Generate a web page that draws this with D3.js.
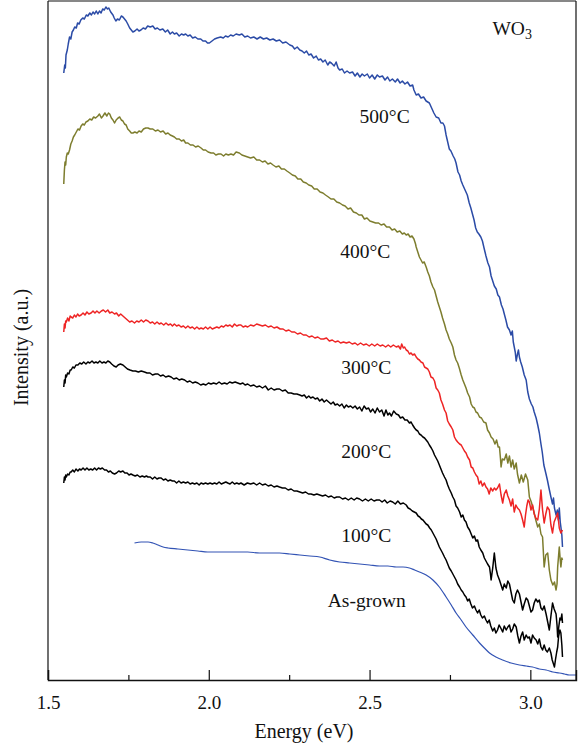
<!DOCTYPE html>
<html>
<head>
<meta charset="utf-8">
<script src="https://cdn.jsdelivr.net/npm/d3@7"></script>
<style>
  html, body { margin: 0; padding: 0; background: #fff; }
  svg { display: block; }
  text { font-family: "Liberation Serif", "DejaVu Serif", serif; fill: #111; }
</style>
</head>
<body>
<svg id="chart" width="580" height="748"></svg>
<script>
// Emission spectra of WO3 films, [energy (eV), intensity (a.u.)]
const s500 = [[1.549,607],[1.552,615],[1.554,612],[1.556,625],[1.560,630],[1.563,636],[1.567,643],[1.571,641],[1.575,648],[1.579,650],[1.583,653],[1.588,652],[1.592,657],[1.597,656],[1.602,660],[1.608,662],[1.613,661],[1.619,665],[1.624,664],[1.630,667],[1.635,665],[1.640,668],[1.645,666],[1.650,669],[1.655,666],[1.660,669],[1.665,667],[1.670,671],[1.675,670],[1.680,673],[1.685,671],[1.689,672],[1.695,668],[1.702,665],[1.706,662],[1.711,659],[1.716,661],[1.722,660],[1.728,664],[1.733,663],[1.738,661],[1.743,659],[1.748,656],[1.754,652],[1.759,650],[1.764,648],[1.770,649],[1.777,651],[1.783,649],[1.789,650],[1.796,652],[1.803,651],[1.810,654],[1.818,653],[1.826,654],[1.833,651],[1.840,652],[1.848,650],[1.857,651],[1.865,648],[1.872,650],[1.880,646],[1.887,648],[1.893,646],[1.900,647],[1.908,644],[1.915,646],[1.922,645],[1.928,646],[1.935,644],[1.942,645],[1.950,642],[1.958,643],[1.966,641],[1.975,641],[1.982,639],[1.990,639],[1.996,637],[2.002,637],[2.010,639],[2.018,641],[2.026,642],[2.037,643],[2.045,642],[2.052,644],[2.060,643],[2.068,645],[2.076,644],[2.085,646],[2.095,645],[2.103,646],[2.112,643],[2.121,644],[2.130,642],[2.140,643],[2.150,641],[2.160,643],[2.170,641],[2.180,642],[2.190,640],[2.200,641],[2.210,639],[2.220,640],[2.230,637],[2.240,638],[2.252,635],[2.260,634],[2.267,631],[2.275,633],[2.283,630],[2.290,629],[2.297,627],[2.304,629],[2.311,625],[2.318,626],[2.326,622],[2.334,624],[2.341,620],[2.348,621],[2.355,618],[2.362,620],[2.370,615],[2.376,618],[2.381,617],[2.390,614],[2.396,618],[2.402,612],[2.407,610],[2.415,611],[2.422,607],[2.430,609],[2.438,607],[2.447,608],[2.455,604],[2.462,607],[2.470,603],[2.477,606],[2.484,604],[2.493,606],[2.500,602],[2.508,605],[2.516,601],[2.524,605],[2.531,603],[2.540,604],[2.548,600],[2.556,603],[2.563,599],[2.571,601],[2.580,598],[2.587,601],[2.595,597],[2.602,599],[2.610,596],[2.618,598],[2.626,594],[2.634,595],[2.638,590],[2.645,585],[2.652,586],[2.660,582],[2.668,583],[2.676,579],[2.686,577],[2.693,572],[2.700,567],[2.707,563],[2.715,562],[2.722,557],[2.728,557],[2.733,554],[2.738,545],[2.743,538],[2.748,531],[2.753,529],[2.760,524],[2.765,521],[2.769,517],[2.775,508],[2.780,505],[2.785,499],[2.790,495],[2.797,490],[2.804,485],[2.810,477],[2.815,472],[2.820,466],[2.825,460],[2.830,452],[2.835,448],[2.840,446],[2.846,443],[2.851,439],[2.856,432],[2.862,424],[2.868,417],[2.873,413],[2.878,404],[2.882,400],[2.888,394],[2.894,391],[2.899,385],[2.904,383],[2.910,375],[2.915,371],[2.919,366],[2.924,360],[2.929,353],[2.935,350],[2.940,345],[2.944,349],[2.947,338],[2.950,333],[2.953,328],[2.956,319],[2.960,326],[2.963,330],[2.966,323],[2.970,318],[2.975,313],[2.981,305],[2.987,300],[2.992,288],[2.997,281],[3.003,276],[3.008,273],[3.012,268],[3.018,262],[3.023,255],[3.028,247],[3.033,236],[3.037,228],[3.042,215],[3.048,207],[3.053,200],[3.058,192],[3.064,183],[3.069,176],[3.072,182],[3.075,172],[3.080,165],[3.084,170],[3.087,160],[3.090,172],[3.093,158],[3.095,153],[3.098,145],[3.100,133]];

const s400 = [[1.549,496],[1.551,510],[1.553,518],[1.555,515],[1.557,523],[1.560,527],[1.563,526],[1.567,530],[1.571,536],[1.575,539],[1.579,543],[1.583,545],[1.588,548],[1.593,551],[1.598,550],[1.603,554],[1.608,556],[1.613,555],[1.618,558],[1.624,559],[1.630,561],[1.636,560],[1.642,563],[1.648,562],[1.655,564],[1.660,566],[1.666,562],[1.671,564],[1.677,567],[1.683,564],[1.688,567],[1.692,566],[1.697,562],[1.702,560],[1.707,557],[1.712,560],[1.718,562],[1.723,563],[1.728,560],[1.733,559],[1.738,556],[1.743,555],[1.748,551],[1.754,549],[1.759,547],[1.764,547],[1.770,548],[1.777,547],[1.783,549],[1.790,548],[1.797,551],[1.804,552],[1.811,552],[1.818,551],[1.826,551],[1.834,549],[1.842,550],[1.850,548],[1.858,549],[1.866,546],[1.873,547],[1.880,545],[1.887,544],[1.893,543],[1.900,541],[1.908,541],[1.915,539],[1.922,540],[1.928,537],[1.935,537],[1.943,535],[1.951,535],[1.959,533],[1.967,534],[1.976,532],[1.983,530],[1.990,530],[1.998,528],[2.007,527],[2.015,527],[2.022,525],[2.030,526],[2.038,526],[2.046,524],[2.053,526],[2.061,525],[2.069,526],[2.077,525],[2.085,528],[2.095,527],[2.103,525],[2.112,524],[2.121,523],[2.130,522],[2.140,523],[2.149,520],[2.158,520],[2.167,518],[2.175,519],[2.184,516],[2.192,517],[2.200,515],[2.209,513],[2.218,514],[2.226,511],[2.235,511],[2.243,509],[2.252,507],[2.260,505],[2.269,504],[2.277,501],[2.286,501],[2.294,498],[2.303,497],[2.311,495],[2.320,494],[2.328,491],[2.337,491],[2.346,488],[2.355,487],[2.363,485],[2.372,483],[2.380,481],[2.389,481],[2.398,478],[2.407,477],[2.416,475],[2.424,474],[2.433,471],[2.441,472],[2.450,468],[2.459,467],[2.467,465],[2.476,465],[2.484,461],[2.492,462],[2.501,459],[2.510,458],[2.519,457],[2.528,457],[2.536,455],[2.545,456],[2.553,453],[2.562,453],[2.570,450],[2.578,451],[2.586,448],[2.594,449],[2.602,446],[2.608,447],[2.614,445],[2.620,446],[2.626,443],[2.632,444],[2.638,441],[2.643,436],[2.645,433],[2.650,428],[2.655,423],[2.660,420],[2.665,417],[2.670,418],[2.676,413],[2.681,408],[2.686,404],[2.691,398],[2.697,393],[2.702,390],[2.707,384],[2.712,378],[2.717,373],[2.722,368],[2.727,362],[2.733,356],[2.738,350],[2.743,346],[2.748,341],[2.754,337],[2.759,333],[2.764,325],[2.769,320],[2.774,317],[2.779,312],[2.785,305],[2.790,300],[2.795,296],[2.800,292],[2.805,287],[2.811,283],[2.816,276],[2.821,273],[2.826,272],[2.831,268],[2.836,267],[2.842,263],[2.848,262],[2.855,258],[2.862,257],[2.867,250],[2.873,247],[2.878,243],[2.884,241],[2.890,236],[2.895,240],[2.900,233],[2.904,233],[2.907,222],[2.909,213],[2.913,221],[2.919,220],[2.925,226],[2.930,217],[2.935,224],[2.940,213],[2.945,220],[2.950,211],[2.956,217],[2.960,206],[2.966,197],[2.972,205],[2.978,198],[2.985,206],[2.992,200],[2.997,183],[3.003,178],[3.008,172],[3.012,167],[3.017,160],[3.023,153],[3.028,156],[3.033,146],[3.038,143],[3.043,113],[3.048,125],[3.054,127],[3.059,110],[3.064,100],[3.070,95],[3.075,98],[3.080,90],[3.083,96],[3.085,113],[3.088,125],[3.090,133],[3.093,120],[3.095,113],[3.098,122],[3.100,120]];

const s300 = [[1.549,348],[1.551,356],[1.553,352],[1.555,359],[1.557,358],[1.561,362],[1.565,359],[1.569,364],[1.572,363],[1.577,362],[1.582,365],[1.587,363],[1.592,366],[1.597,364],[1.603,365],[1.609,367],[1.615,365],[1.621,368],[1.627,366],[1.634,367],[1.640,369],[1.646,367],[1.652,369],[1.659,367],[1.666,369],[1.672,370],[1.679,368],[1.686,370],[1.692,367],[1.699,368],[1.707,366],[1.713,367],[1.720,364],[1.726,366],[1.733,364],[1.740,362],[1.747,360],[1.754,358],[1.761,359],[1.769,357],[1.776,359],[1.783,358],[1.790,360],[1.797,358],[1.804,360],[1.811,359],[1.818,357],[1.825,358],[1.832,356],[1.839,358],[1.846,356],[1.852,357],[1.860,355],[1.867,357],[1.874,355],[1.881,356],[1.887,354],[1.893,356],[1.900,354],[1.907,355],[1.914,353],[1.921,354],[1.928,352],[1.935,354],[1.942,352],[1.949,353],[1.956,351],[1.963,353],[1.970,351],[1.976,352],[1.983,351],[1.990,353],[1.997,351],[2.004,353],[2.011,351],[2.018,352],[2.025,353],[2.032,352],[2.039,354],[2.046,353],[2.053,355],[2.059,354],[2.066,355],[2.073,353],[2.080,356],[2.087,354],[2.094,355],[2.100,355],[2.107,353],[2.114,354],[2.121,353],[2.130,355],[2.140,354],[2.149,356],[2.158,355],[2.167,354],[2.176,355],[2.185,353],[2.194,354],[2.203,352],[2.212,353],[2.222,351],[2.231,351],[2.240,349],[2.249,350],[2.258,348],[2.267,348],[2.276,346],[2.285,347],[2.294,345],[2.303,345],[2.312,343],[2.321,344],[2.330,342],[2.339,343],[2.348,341],[2.357,341],[2.366,342],[2.375,339],[2.384,340],[2.393,338],[2.402,339],[2.410,337],[2.419,338],[2.428,337],[2.437,338],[2.446,336],[2.455,337],[2.463,335],[2.472,337],[2.481,335],[2.490,336],[2.499,334],[2.507,336],[2.516,334],[2.524,336],[2.533,334],[2.541,335],[2.550,333],[2.558,335],[2.566,333],[2.574,335],[2.583,333],[2.590,334],[2.596,331],[2.600,336],[2.605,332],[2.609,333],[2.614,330],[2.619,329],[2.624,326],[2.629,327],[2.634,325],[2.640,326],[2.645,323],[2.650,321],[2.655,320],[2.660,318],[2.666,317],[2.671,313],[2.676,312],[2.681,311],[2.686,308],[2.691,303],[2.697,302],[2.702,299],[2.707,292],[2.712,290],[2.717,287],[2.722,280],[2.727,276],[2.733,270],[2.738,267],[2.743,259],[2.748,256],[2.754,253],[2.759,250],[2.764,243],[2.769,240],[2.774,238],[2.780,236],[2.785,235],[2.790,232],[2.795,229],[2.800,227],[2.805,223],[2.811,220],[2.816,213],[2.821,212],[2.826,208],[2.831,205],[2.836,203],[2.841,196],[2.846,199],[2.851,194],[2.857,197],[2.862,193],[2.867,191],[2.872,186],[2.877,192],[2.883,189],[2.888,192],[2.893,190],[2.898,192],[2.904,196],[2.909,185],[2.914,177],[2.919,186],[2.925,190],[2.930,184],[2.935,180],[2.940,174],[2.945,181],[2.950,168],[2.955,175],[2.960,172],[2.966,170],[2.971,166],[2.976,160],[2.981,153],[2.985,165],[2.989,174],[2.993,180],[2.997,178],[3.002,170],[3.007,175],[3.012,166],[3.017,162],[3.023,160],[3.028,171],[3.033,190],[3.038,170],[3.043,157],[3.048,166],[3.053,173],[3.059,170],[3.064,155],[3.069,147],[3.074,158],[3.079,162],[3.085,167],[3.090,152],[3.095,147],[3.100,150]];

const s200 = [[1.549,293],[1.551,300],[1.553,297],[1.555,305],[1.557,303],[1.561,307],[1.565,306],[1.569,310],[1.572,310],[1.577,313],[1.582,312],[1.587,315],[1.593,315],[1.599,317],[1.605,316],[1.611,318],[1.618,316],[1.624,318],[1.630,317],[1.637,319],[1.643,317],[1.649,318],[1.655,317],[1.661,319],[1.668,317],[1.674,318],[1.680,317],[1.686,319],[1.692,318],[1.698,316],[1.705,314],[1.712,313],[1.718,315],[1.725,316],[1.733,315],[1.740,313],[1.747,311],[1.755,310],[1.764,309],[1.772,309],[1.781,308],[1.790,309],[1.800,308],[1.808,307],[1.817,307],[1.825,305],[1.834,306],[1.842,306],[1.850,304],[1.858,305],[1.866,303],[1.875,304],[1.883,303],[1.891,301],[1.900,302],[1.908,300],[1.916,301],[1.925,300],[1.933,298],[1.941,299],[1.950,297],[1.958,298],[1.966,297],[1.975,295],[1.983,296],[1.991,295],[1.999,297],[2.007,296],[2.015,297],[2.024,296],[2.032,298],[2.040,296],[2.049,297],[2.057,296],[2.065,298],[2.073,297],[2.082,298],[2.090,297],[2.098,296],[2.106,297],[2.113,295],[2.121,296],[2.130,294],[2.140,295],[2.149,293],[2.158,294],[2.167,292],[2.176,294],[2.185,290],[2.194,292],[2.203,290],[2.212,291],[2.220,291],[2.229,289],[2.238,290],[2.247,287],[2.256,287],[2.265,286],[2.274,286],[2.283,285],[2.290,284],[2.297,285],[2.304,282],[2.311,284],[2.317,282],[2.324,283],[2.331,281],[2.338,282],[2.345,279],[2.352,281],[2.359,278],[2.366,280],[2.373,278],[2.380,276],[2.387,278],[2.393,275],[2.400,276],[2.407,274],[2.414,276],[2.421,272],[2.428,275],[2.434,273],[2.441,274],[2.448,272],[2.455,274],[2.462,271],[2.469,273],[2.476,269],[2.483,274],[2.490,271],[2.497,272],[2.503,268],[2.510,271],[2.517,267],[2.524,272],[2.531,268],[2.538,270],[2.545,264],[2.551,270],[2.557,265],[2.562,267],[2.568,264],[2.575,269],[2.583,266],[2.590,265],[2.596,262],[2.603,263],[2.610,260],[2.617,260],[2.624,257],[2.629,258],[2.634,255],[2.640,252],[2.645,250],[2.650,249],[2.655,246],[2.660,245],[2.666,243],[2.671,242],[2.676,240],[2.681,238],[2.686,235],[2.692,232],[2.697,229],[2.702,225],[2.707,222],[2.712,219],[2.717,215],[2.722,211],[2.727,207],[2.733,203],[2.738,200],[2.743,195],[2.748,191],[2.754,187],[2.759,183],[2.764,180],[2.769,174],[2.774,172],[2.780,168],[2.785,163],[2.790,165],[2.795,160],[2.800,158],[2.805,153],[2.811,150],[2.816,146],[2.821,142],[2.826,144],[2.831,139],[2.836,140],[2.841,133],[2.846,130],[2.852,127],[2.857,122],[2.862,119],[2.867,116],[2.873,113],[2.876,106],[2.878,100],[2.883,112],[2.888,127],[2.893,112],[2.898,105],[2.904,100],[2.909,95],[2.914,90],[2.919,96],[2.925,92],[2.930,99],[2.935,96],[2.940,88],[2.945,80],[2.950,77],[2.955,86],[2.960,90],[2.966,86],[2.971,78],[2.976,70],[2.981,76],[2.987,82],[2.992,80],[2.997,74],[3.002,68],[3.007,70],[3.012,77],[3.017,81],[3.023,78],[3.028,80],[3.033,72],[3.038,70],[3.043,74],[3.049,66],[3.054,58],[3.059,50],[3.064,64],[3.069,77],[3.074,71],[3.080,66],[3.083,55],[3.085,43],[3.088,52],[3.092,62],[3.095,60],[3.098,66],[3.100,57]];

const s100 = [[1.549,197],[1.551,203],[1.553,200],[1.555,205],[1.557,203],[1.561,206],[1.565,205],[1.569,208],[1.572,208],[1.577,210],[1.582,208],[1.587,211],[1.593,209],[1.598,211],[1.603,210],[1.609,212],[1.615,210],[1.621,212],[1.627,210],[1.633,211],[1.639,210],[1.645,212],[1.651,210],[1.657,212],[1.663,211],[1.669,212],[1.676,210],[1.682,210],[1.688,208],[1.694,209],[1.700,207],[1.707,206],[1.713,207],[1.720,209],[1.726,208],[1.733,209],[1.739,207],[1.746,207],[1.752,205],[1.758,206],[1.764,205],[1.771,204],[1.778,205],[1.786,203],[1.793,204],[1.800,203],[1.806,204],[1.811,203],[1.818,203],[1.825,201],[1.832,203],[1.839,201],[1.845,202],[1.852,202],[1.859,200],[1.866,201],[1.873,199],[1.880,200],[1.887,199],[1.893,199],[1.900,197],[1.907,199],[1.914,197],[1.921,198],[1.928,197],[1.935,198],[1.942,196],[1.949,197],[1.956,196],[1.963,197],[1.970,195],[1.976,197],[1.983,196],[1.990,197],[1.997,196],[2.004,197],[2.011,196],[2.018,197],[2.025,196],[2.032,198],[2.039,196],[2.046,197],[2.053,198],[2.059,197],[2.066,196],[2.073,198],[2.080,196],[2.087,197],[2.094,196],[2.100,197],[2.110,195],[2.120,197],[2.130,196],[2.140,197],[2.149,195],[2.158,197],[2.167,195],[2.176,196],[2.185,194],[2.194,195],[2.203,193],[2.212,194],[2.220,193],[2.229,192],[2.238,192],[2.247,190],[2.256,191],[2.265,189],[2.274,189],[2.283,188],[2.292,187],[2.301,188],[2.310,186],[2.318,186],[2.327,185],[2.336,186],[2.345,185],[2.354,184],[2.363,185],[2.372,183],[2.381,184],[2.390,182],[2.398,183],[2.407,183],[2.416,181],[2.425,182],[2.434,180],[2.443,182],[2.452,180],[2.460,182],[2.469,181],[2.478,179],[2.487,181],[2.496,179],[2.505,181],[2.514,179],[2.522,180],[2.531,180],[2.539,178],[2.547,180],[2.555,177],[2.564,179],[2.572,178],[2.580,176],[2.588,179],[2.596,176],[2.605,177],[2.614,175],[2.620,172],[2.626,171],[2.633,169],[2.639,168],[2.645,167],[2.651,164],[2.656,163],[2.661,161],[2.666,160],[2.671,158],[2.676,156],[2.681,155],[2.687,152],[2.692,150],[2.697,147],[2.702,144],[2.707,141],[2.712,137],[2.717,133],[2.722,130],[2.727,127],[2.733,123],[2.738,120],[2.743,116],[2.748,112],[2.754,109],[2.759,106],[2.764,103],[2.769,100],[2.774,96],[2.780,93],[2.785,90],[2.790,88],[2.795,85],[2.800,83],[2.805,79],[2.810,81],[2.815,76],[2.820,72],[2.826,74],[2.831,70],[2.836,67],[2.841,70],[2.846,65],[2.851,62],[2.857,64],[2.862,60],[2.867,57],[2.872,60],[2.877,54],[2.883,49],[2.888,52],[2.893,47],[2.898,50],[2.903,55],[2.908,52],[2.914,48],[2.919,54],[2.925,50],[2.930,53],[2.935,55],[2.940,48],[2.945,51],[2.950,56],[2.956,53],[2.961,44],[2.966,37],[2.971,44],[2.976,48],[2.981,40],[2.987,45],[2.992,42],[2.997,43],[3.002,37],[3.007,45],[3.012,42],[3.018,40],[3.023,36],[3.028,41],[3.033,33],[3.038,30],[3.043,35],[3.048,30],[3.053,28],[3.059,32],[3.064,27],[3.068,20],[3.072,16],[3.075,13],[3.078,20],[3.082,28],[3.085,33],[3.088,44],[3.092,50],[3.095,47],[3.098,35],[3.100,23]];

const sGrown = [[1.769,137],[1.790,138],[1.811,138],[1.826,137],[1.842,135],[1.858,133],[1.873,132],[1.904,131],[1.935,130],[1.966,129],[1.997,128],[2.028,128],[2.059,128],[2.090,128],[2.121,128],[2.158,127],[2.190,127],[2.220,127],[2.252,126],[2.283,125],[2.314,124],[2.345,123],[2.376,120],[2.407,118],[2.438,117],[2.469,116],[2.500,115],[2.531,114],[2.557,114],[2.583,113],[2.604,113],[2.624,112],[2.640,110],[2.655,108],[2.676,105],[2.697,100],[2.717,93],[2.738,83],[2.754,75],[2.769,67],[2.785,60],[2.800,53],[2.821,45],[2.842,37],[2.857,32],[2.873,27],[2.893,23],[2.914,20],[2.940,17],[2.966,15],[2.987,14],[3.007,13],[3.028,11],[3.049,10],[3.070,8],[3.090,7],[3.106,6],[3.121,5],[3.142,5]];

const seriesNames = ["500°C", "400°C", "300°C", "200°C", "100°C", "As-grown"];
const seriesData = [s500, s400, s300, s200, s100, sGrown];
const seriesColors = ["#2b4ba6", "#7d7d2e", "#ee2424", "#000000", "#000000", "#3253b4"];

// label anchors in data space [energy, intensity]
const labelAnchors = [[2.469,557],[2.409,422],[2.412,306],[2.412,222],[2.412,138],[2.370,73]];

const xTicks = [1.5, 2.0, 2.5, 3.0];
const xMinorTicks = [1.75, 2.25, 2.75];
const xDomain = [1.5, 3.142];
const yDomain = [0, 679];

const svg = d3.select("#chart");
const m = { left: 48, right: 4, top: 1, bottom: 68 };
const W = 580, H = 748;

const x = d3.scaleLinear().domain(xDomain).range([m.left, W - m.right]);
const y = d3.scaleLinear().domain(yDomain).range([H - m.bottom, m.top]);

// curves
const line = d3.line().x(d => x(d[0])).y(d => y(d[1]));
const smooth = d3.line().x(d => x(d[0])).y(d => y(d[1])).curve(d3.curveMonotoneX);

seriesData.forEach((s, i) => {
  const grown = i === seriesData.length - 1;
  svg.append("path")
    .datum(s)
    .attr("fill", "none")
    .attr("stroke", seriesColors[i])
    .attr("stroke-width", grown ? 1.2 : 1.5)
    .attr("stroke-linejoin", "round")
    .attr("d", grown ? smooth : line);
});

// frame
const gFrame = svg.append("g").attr("fill", "none").attr("stroke", "#111").attr("stroke-width", 1.2);
gFrame.append("line").attr("x1", x(xDomain[0])).attr("x2", x(xDomain[0])).attr("y1", y(yDomain[1])).attr("y2", y(0));
gFrame.append("line").attr("x1", x(xDomain[0])).attr("x2", x(xDomain[1])).attr("y1", y(yDomain[1])).attr("y2", y(yDomain[1]));
gFrame.append("line").attr("x1", x(xDomain[1])).attr("x2", x(xDomain[1])).attr("y1", y(yDomain[1])).attr("y2", y(0));

// bottom axis with inward ticks
const xAxis = d3.axisBottom(x).tickValues(xTicks).tickSize(-10).tickPadding(16).tickFormat(d3.format(".1f"));
const gx = svg.append("g").attr("transform", `translate(0,${y(0)})`).call(xAxis);
gx.select(".domain").attr("stroke", "#111").attr("stroke-width", 1.4);
gx.selectAll(".tick line").attr("stroke", "#111").attr("stroke-width", 1.2);
gx.selectAll(".tick text").attr("font-size", 19).attr("font-family", "Liberation Serif, serif").attr("fill", "#111");

const xMinor = d3.axisBottom(x).tickValues(xMinorTicks).tickSize(-5).tickFormat("");
const gxm = svg.append("g").attr("transform", `translate(0,${y(0)})`).call(xMinor);
gxm.select(".domain").remove();
gxm.selectAll(".tick line").attr("stroke", "#111").attr("stroke-width", 1.2);

// axis titles
svg.append("text")
  .attr("x", 304)
  .attr("y", 738)
  .attr("text-anchor", "middle")
  .attr("font-size", 20)
  .text("Energy (eV)");

svg.append("text")
  .attr("transform", `translate(28,${(y(0) + y(yDomain[1])) / 2 + 7}) rotate(-90)`)
  .attr("text-anchor", "middle")
  .attr("font-size", 20)
  .text("Intensity (a.u.)");

// series labels
seriesNames.forEach((name, i) => {
  svg.append("text")
    .attr("x", x(labelAnchors[i][0]))
    .attr("y", y(labelAnchors[i][1]))
    .attr("font-size", 19.5)
    .text(name);
});

// material label
const wo = svg.append("text")
  .attr("x", x(2.882))
  .attr("y", y(645))
  .attr("font-size", 19.5);
wo.append("tspan").text("WO");
wo.append("tspan").attr("font-size", 14).attr("dy", 4).text("3");
</script>
</body>
</html>
